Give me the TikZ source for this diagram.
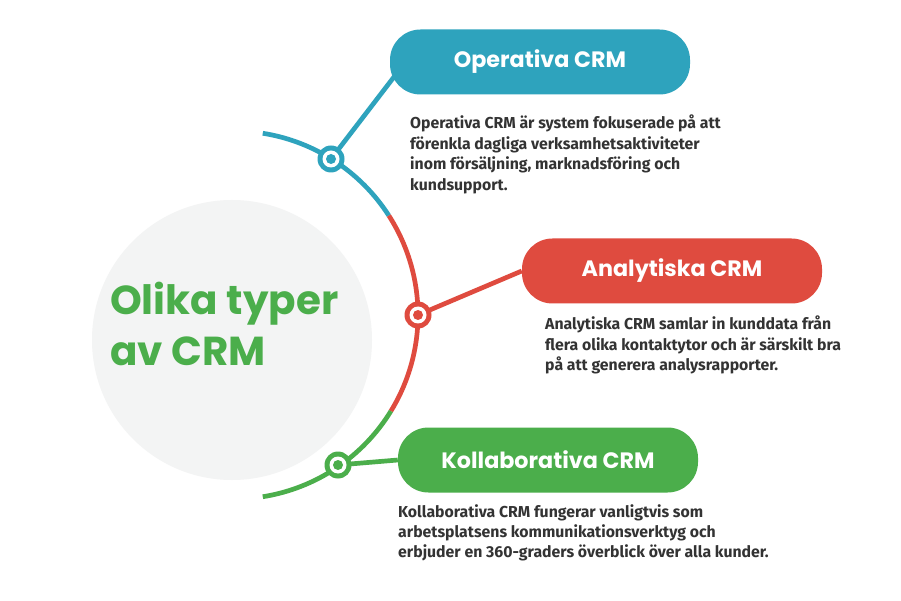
\documentclass[tikz,border=0pt]{standalone}
\usepackage{fontspec}
\setmainfont{Fira Sans}
\newfontfamily\headfont{Poppins}
\definecolor{crmteal}{HTML}{2EA3BD}
\definecolor{crmred}{HTML}{DF4B3F}
\definecolor{crmgreen}{HTML}{4BAE4B}
\definecolor{bubble}{HTML}{F3F4F4}
\definecolor{bodytext}{HTML}{333333}
\tikzset{
  arcline/.style={line width=4pt},
  pill/.style={rounded corners=26pt, minimum width=300*0.03cm, minimum height=65*0.03cm,
    text=white, font=\headfont\fontsize{19}{22}\selectfont\bfseries},
  desc/.style={anchor=north west, align=left, text=bodytext,
    font=\fontsize{13.5}{17.4}\selectfont\bfseries, inner sep=0pt},
}
\newcommand{\marker}[2]{%
  \fill[#1] (#2) circle (13.5*0.03cm);
  \fill[white] (#2) circle (8.5*0.03cm);
  \fill[#1] (#2) circle (5*0.03cm);}
\begin{document}
\begin{tikzpicture}[x=0.03cm,y=-0.03cm]
    \useasboundingbox[fill=white] (0,0) rectangle (901,601);

    % Bubble and title
    \fill[bubble] (232,340) circle (140);
    \node[anchor=west, text=crmgreen, align=left, font=\headfont\fontsize{34.5}{44}\selectfont\bfseries]
        (title) at (106,324) {Olika typer\\av CRM};

    % Arc
    \coordinate (c) at (234,315);
    \draw[arcline,crmteal] ([shift={(-81:184)}]c) arc[start angle=-81,end angle=-32.7,radius=184];
    \draw[arcline,crmred] ([shift={(-32.7:184)}]c) arc[start angle=-32.7,end angle=31.5,radius=184];
    \draw[arcline,crmgreen] ([shift={(31.5:184)}]c) arc[start angle=31.5,end angle=81,radius=184];

    % Pills
    \node[pill,fill=crmteal] (op) at (540,62) {Operativa CRM};
    \node[pill,fill=crmred] (an) at (672,271) {Analytiska CRM};
    \node[pill,fill=crmgreen] (ko) at (548,460) {Kollaborativa CRM};

    % Connectors and markers
    \coordinate (m1) at (331,159);
    \coordinate (m2) at (418,315);
    \coordinate (m3) at (338,465);
    \draw[arcline,crmteal] (m1) -- ([shift={(8,10)}]op.west);
    \draw[arcline,crmred] (m2) -- (an.west);
    \draw[arcline,crmgreen] (m3) -- (ko.west);
    \marker{crmteal}{m1}
    \marker{crmred}{m2}
    \marker{crmgreen}{m3}

    % Descriptions
    \node[desc] (d1) at (410,115) {Operativa CRM är system fokuserade på att\\förenkla dagliga verksamhetsaktiviteter\\inom försäljning, marknadsföring och\\kundsupport.};
    \node[desc] (d2) at (545,316) {Analytiska CRM samlar in kunddata från\\flera olika kontaktytor och är särskilt bra\\på att generera analysrapporter.};
    \node[desc] (d3) at (398,504) {Kollaborativa CRM fungerar vanligtvis som\\arbetsplatsens kommunikationsverktyg och\\erbjuder en 360-graders överblick över alla kunder.};
\end{tikzpicture}
\end{document}
